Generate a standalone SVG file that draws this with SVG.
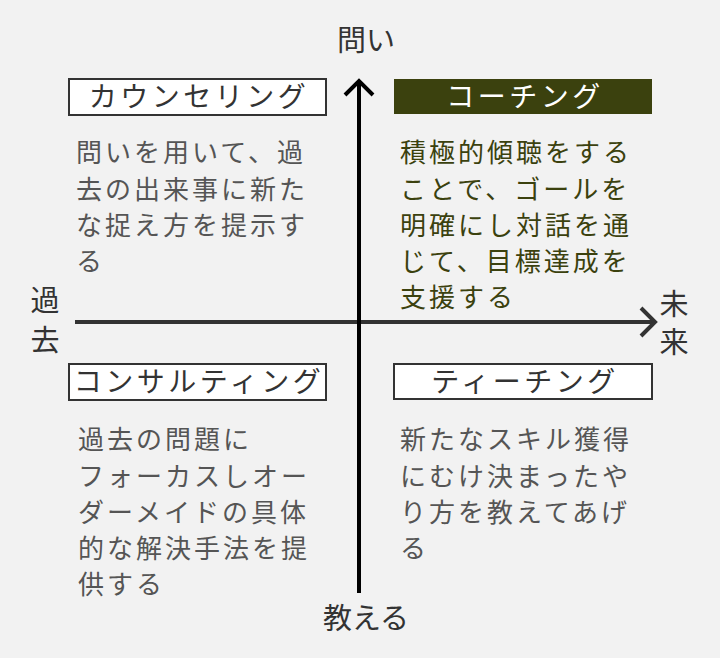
<svg xmlns="http://www.w3.org/2000/svg" width="720" height="658" viewBox="0 0 720 658">
<style>
text{font-family:"Noto Sans CJK JP","Noto Sans CJK SC",sans-serif;}
.axis{font-size:29px;fill:#333;}
.title{font-size:28px;letter-spacing:3.5px;text-anchor:middle;}
.body{font-size:26px;letter-spacing:3px;fill:#555;}
.box{fill:#fff;stroke:#333;stroke-width:2;}
</style>
<rect width="720" height="658" fill="#f2f2f2"/>
<g id="connectors" fill="none" stroke-linecap="butt" stroke-linejoin="miter">
<path d="M75 322H654" stroke="#333" stroke-width="4"/>
<path d="M641 308L655 322L641 336" stroke="#333" stroke-width="4"/>
<path d="M359 593V82" stroke="#000" stroke-width="4"/>
<path d="M345 95L359 81L373 95" stroke="#000" stroke-width="4"/>
</g>
<g id="axis-labels">
<text class="axis" x="366" y="51" text-anchor="middle">問い</text>
<text class="axis" x="366" y="629" text-anchor="middle">教える</text>
<text class="axis" x="45" y="311" text-anchor="middle">過</text>
<text class="axis" x="45" y="351" text-anchor="middle">去</text>
<text class="axis" x="674" y="315" text-anchor="middle">未</text>
<text class="axis" x="674" y="353" text-anchor="middle">来</text>
</g>
<g id="counseling">
<rect class="box" x="69" y="79" width="257" height="36"/>
<text class="title" x="199" y="107" fill="#333">カウンセリング</text>
<text class="body" x="76"><tspan x="76" y="162">問いを用いて、過</tspan><tspan x="76" y="199">去の出来事に新た</tspan><tspan x="76" y="235">な捉え方を提示す</tspan><tspan x="76" y="271">る</tspan></text>
</g>
<g id="coaching">
<rect x="394" y="79" width="258" height="35" fill="#3b410e"/>
<text class="title" x="525" y="107" fill="#fff">コーチング</text>
<text class="body" x="400" style="fill:#3b410e"><tspan x="400" y="162">積極的傾聴をする</tspan><tspan x="400" y="199">ことで、ゴールを</tspan><tspan x="400" y="235">明確にし対話を通</tspan><tspan x="400" y="271">じて、目標達成を</tspan><tspan x="400" y="307">支援する</tspan></text>
</g>
<g id="consulting">
<rect class="box" x="69" y="364" width="257" height="36"/>
<text class="title" x="199" y="392" fill="#333">コンサルティング</text>
<text class="body" x="78"><tspan x="78" y="449">過去の問題に</tspan><tspan x="78" y="486">フォーカスしオー</tspan><tspan x="78" y="522">ダーメイドの具体</tspan><tspan x="78" y="558">的な解決手法を提</tspan><tspan x="78" y="594">供する</tspan></text>
</g>
<g id="teaching">
<rect class="box" x="394" y="364" width="258" height="35"/>
<text class="title" x="525" y="392" fill="#333">ティーチング</text>
<text class="body" x="400"><tspan x="400" y="449">新たなスキル獲得</tspan><tspan x="400" y="486">にむけ決まったや</tspan><tspan x="400" y="522">り方を教えてあげ</tspan><tspan x="400" y="558">る</tspan></text>
</g>
</svg>
